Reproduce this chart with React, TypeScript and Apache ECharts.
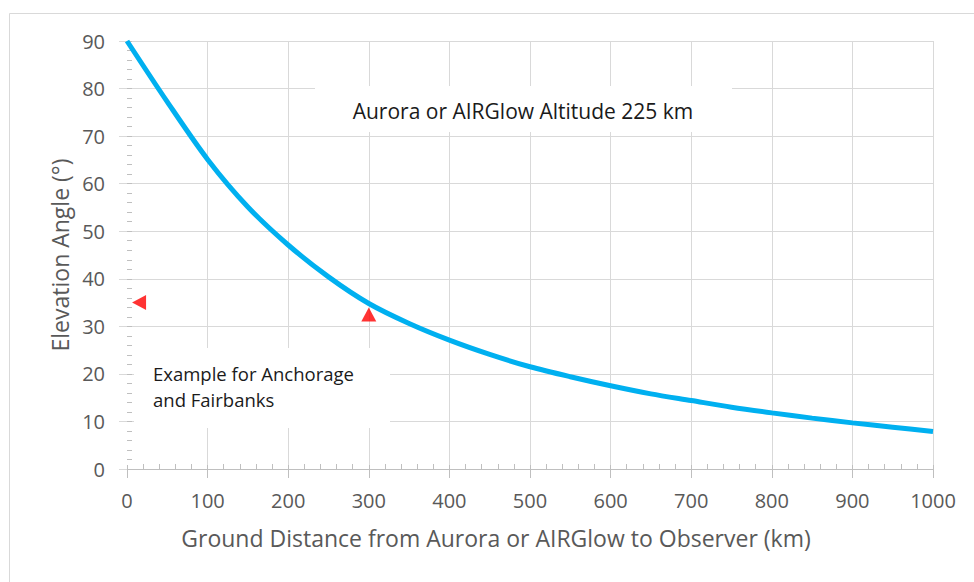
import React, { useEffect, useRef } from "react";
import * as echarts from "echarts";

// Ground distance (km) and elevation angle (deg)
const distances = [0, 50, 100, 150, 200, 250, 300, 350, 400, 450, 500, 550, 600, 650, 700, 750, 800, 850, 900, 950, 1000];
const elevations = [90, 77.2, 65.1, 55.1, 47.1, 40.4, 34.8, 30.6, 27.1, 24.1, 21.5, 19.4, 17.5, 15.8, 14.4, 13.0, 11.8, 10.7, 9.7, 8.8, 7.9];

// Example markers (Anchorage / Fairbanks)
const leftMarker = [[15, 35]];
const upMarker = [[300, 32.5]];

const xTitle = "Ground Distance from Aurora or AIRGlow to Observer (km)";
const yTitle = "Elevation Angle (°)";
const boxTitle = "Aurora or AIRGlow Altitude 225 km";
const boxExample = "Example for Anchorage\nand Fairbanks";

const FONT = "'Open Sans', 'Noto Sans', sans-serif";

export default function App() {
  const ref = useRef<HTMLDivElement>(null);
  useEffect(() => {
    if (!ref.current) return;
    const chart = echarts.init(ref.current, null, { renderer: "svg" });
    const curve = distances.map((d, i) => [d, elevations[i]]);
    const grey = "#bfbfbf";
    const gridGrey = "#d9d9d9";
    const labelColor = "#595959";
    const plain = (v: number) => String(v);
    chart.setOption({
      animation: false,
      backgroundColor: "#ffffff",
      textStyle: { fontFamily: FONT },
      grid: { left: 127, right: 41, top: 41, bottom: 113 },
      xAxis: [
        {
          type: "value",
          min: 0,
          max: 1000,
          interval: 100,
          position: "bottom",
          axisLine: { show: true, lineStyle: { color: grey, width: 1 } },
          axisTick: { show: true, inside: false, length: 9, lineStyle: { color: grey } },
          axisLabel: { color: labelColor, fontSize: 20, margin: 21, fontFamily: FONT, formatter: plain },
          splitLine: { show: true, showMinLine: false, lineStyle: { color: gridGrey, width: 1 } },
        },
        {
          type: "value",
          min: 0,
          max: 1000,
          interval: 100,
          position: "bottom",
          axisLine: { show: false },
          axisTick: { show: true, inside: true, length: 4, lineStyle: { color: grey } },
          minorTick: { show: true, splitNumber: 5, length: 5, lineStyle: { color: grey } },
          axisLabel: { show: false },
          splitLine: { show: false },
        },
      ],
      yAxis: [
        {
          type: "value",
          min: 0,
          max: 90,
          interval: 10,
          position: "left",
          axisLine: { show: false },
          axisTick: { show: true, inside: false, length: 8, lineStyle: { color: gridGrey } },
          axisLabel: { color: labelColor, fontSize: 20, margin: 22, fontFamily: FONT, formatter: plain },
          splitLine: { show: true, showMinLine: false, lineStyle: { color: gridGrey, width: 1 } },
          name: yTitle,
          nameLocation: "middle",
          nameGap: 55,
          nameTextStyle: { color: labelColor, fontSize: 23, fontFamily: FONT },
        },
        {
          type: "value",
          min: 0,
          max: 90,
          interval: 10,
          position: "left",
          axisLine: { show: false },
          axisTick: { show: true, inside: true, length: 5, lineStyle: { color: grey } },
          minorTick: { show: true, splitNumber: 5, length: 5, lineStyle: { color: grey } },
          axisLabel: { show: false },
          splitLine: { show: false },
        },
      ],
      series: [
        {
          type: "line",
          xAxisIndex: 0,
          yAxisIndex: 0,
          data: curve,
          smooth: 0.3,
          showSymbol: false,
          clip: false,
          lineStyle: { color: "#00b0f0", width: 5 },
          z: 3,
        },
        {
          type: "scatter",
          xAxisIndex: 0,
          yAxisIndex: 0,
          data: leftMarker,
          symbol: "triangle",
          symbolRotate: 90,
          symbolSize: [15, 14],
          itemStyle: { color: "#ff0000" },
          z: 4,
        },
        {
          type: "scatter",
          xAxisIndex: 0,
          yAxisIndex: 0,
          data: upMarker,
          symbol: "triangle",
          symbolSize: [15, 14],
          itemStyle: { color: "#ff0000" },
          z: 4,
        },
      ],
      graphic: [
        {
          type: "rect",
          left: 7,
          top: 11,
          z: 0,
          shape: { width: 1000, height: 700 },
          style: { fill: "none", stroke: gridGrey, lineWidth: 1 },
          silent: true,
        },
        {
          type: "text",
          z: 11,
          style: {
            text: xTitle,
            x: 496,
            y: 538,
            textAlign: "center",
            textVerticalAlign: "middle",
            fill: labelColor,
            fontSize: 23,
            fontFamily: FONT,
          },
        },
        {
          type: "rect",
          z: 10,
          shape: { x: 315, y: 86, width: 417, height: 46 },
          style: { fill: "#ffffff" },
        },
        {
          type: "text",
          z: 11,
          style: {
            text: boxTitle,
            x: 523,
            y: 111,
            textAlign: "center",
            textVerticalAlign: "middle",
            fill: "#1a1a1a",
            fontSize: 21,
            fontFamily: FONT,
          },
        },
        {
          type: "rect",
          z: 10,
          shape: { x: 134, y: 348, width: 256, height: 80 },
          style: { fill: "#ffffff" },
        },
        {
          type: "text",
          z: 11,
          style: {
            text: boxExample,
            x: 153,
            y: 386,
            textAlign: "left",
            textVerticalAlign: "middle",
            fill: "#1a1a1a",
            fontSize: 18.5,
            lineHeight: 26,
            fontFamily: FONT,
          },
        },
      ],
    });
    return () => chart.dispose();
  }, []);
  return (
    <div
      ref={ref}
      style={{ position: "fixed", left: 0, top: 0, width: 974, height: 582, background: "#fff" }}
    />
  );
}
